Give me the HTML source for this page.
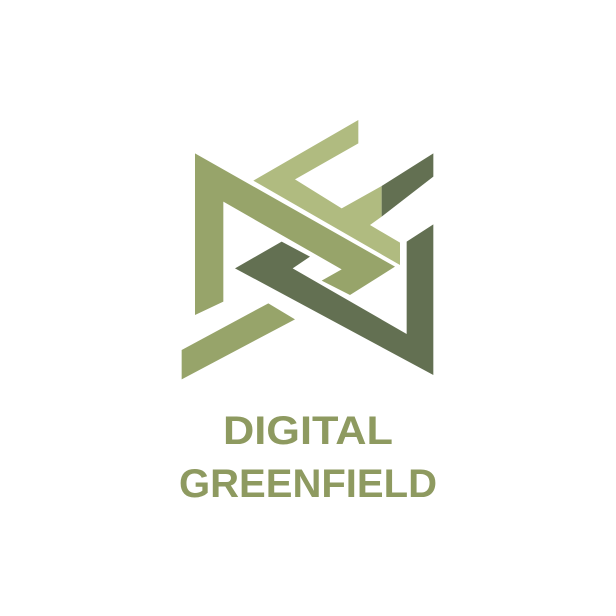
<!DOCTYPE html>
<html><head><meta charset="utf-8">
<style>html,body{margin:0;padding:0;background:#fff;}svg{display:block}</style>
</head><body>
<svg width="616" height="616" viewBox="0 0 616 616">
<rect width="616" height="616" fill="#fff"/>
<g transform="translate(170,110) scale(0.33333)">
<polygon fill="#b0bb80"
 points="565,30 565,100 375,208 515,295 635,228 635,320 600,345 690,398 690,465 250,212"/>
<polygon fill="#637052"
 points="635,228 790,130 790,200 635,320"/>
<polygon fill="#97a46a"
 points="75,130 675,470 540,555 455,512 515,478 160,275 160,575 75,615"/>
<polygon fill="#97a46a"
 points="35,720 295,580 375,628 35,808"/>
<polygon fill="#637052"
 points="195,475 335,395 420,440 368,475 710,672 710,395 790,343 790,795"/>
</g>
<text x="223" y="444" font-family="Liberation Sans, sans-serif" font-weight="bold" font-size="40" fill="#8e9a60" textLength="170" lengthAdjust="spacingAndGlyphs">DIGITAL</text>
<text x="179" y="497" font-family="Liberation Sans, sans-serif" font-weight="bold" font-size="40" fill="#8e9a60" textLength="258" lengthAdjust="spacingAndGlyphs">GREENFIELD</text>
</svg>
</body></html>
